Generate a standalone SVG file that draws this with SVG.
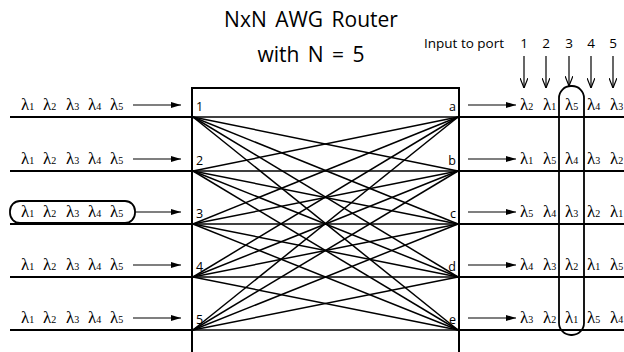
<svg xmlns="http://www.w3.org/2000/svg" width="624" height="352" viewBox="0 0 624 352">
<defs>
<marker id="ah" viewBox="0 0 10 6" refX="10" refY="3" markerWidth="10" markerHeight="6" markerUnits="userSpaceOnUse" orient="auto">
<path d="M0,0 L10,3 L0,6 Z" fill="#000"/>
</marker>
<marker id="dh" viewBox="0 0 8 10" refX="4" refY="10" markerWidth="8" markerHeight="10" markerUnits="userSpaceOnUse" orient="0">
<path d="M0,0 L4,10 L8,0" fill="none" stroke="#000" stroke-width="1.2"/>
</marker>
<style>
.title{font-family:"Open Sans","DejaVu Sans",sans-serif;font-size:21px;fill:#000;text-anchor:middle}
.sm{font-family:"Open Sans","DejaVu Sans",sans-serif;font-size:13.5px;fill:#000}
.port{font-family:"Open Sans","DejaVu Sans",sans-serif;font-size:12.5px;fill:#000}
.lam{font-family:"Liberation Serif","DejaVu Serif",serif;font-size:17px;fill:#000}
.sub{font-size:10px}
.row{stroke:#000;stroke-width:2;fill:none}
.box{stroke:#000;stroke-width:2;fill:none}
.mesh{stroke:#000;stroke-width:1.5}
.arr{stroke:#000;stroke-width:1.2;marker-end:url(#ah)}
.darr{stroke:#000;stroke-width:1.2;marker-end:url(#dh)}
.oval{stroke:#000;stroke-width:1.8;fill:none}
</style>
</defs>
<rect width="624" height="352" fill="#fff"/>

<g id="title">
<text class="title" x="311" y="27" word-spacing="3">NxN AWG Router</text>
<text class="title" x="311" y="62" word-spacing="3">with N = 5</text>
</g>

<g id="router">
<path class="box" d="M192,352 V88 H459 V352"/>
</g>

<g id="port-labels">
<text class="port" x="196" y="111">1</text>
<text class="port" x="196" y="165">2</text>
<text class="port" x="196" y="218">3</text>
<text class="port" x="196" y="271">4</text>
<text class="port" x="196" y="324">5</text>
<text class="port" x="456" y="111" text-anchor="end">a</text>
<text class="port" x="456" y="165" text-anchor="end">b</text>
<text class="port" x="456" y="218" text-anchor="end">c</text>
<text class="port" x="456" y="271" text-anchor="end">d</text>
<text class="port" x="456" y="324" text-anchor="end">e</text>
</g>

<g id="inputs">
<text class="lam" y="110"><tspan x="21">λ<tspan class="sub">1</tspan></tspan><tspan x="43">λ<tspan class="sub">2</tspan></tspan><tspan x="66">λ<tspan class="sub">3</tspan></tspan><tspan x="88">λ<tspan class="sub">4</tspan></tspan><tspan x="110">λ<tspan class="sub">5</tspan></tspan></text>
<text class="lam" y="164"><tspan x="21">λ<tspan class="sub">1</tspan></tspan><tspan x="43">λ<tspan class="sub">2</tspan></tspan><tspan x="66">λ<tspan class="sub">3</tspan></tspan><tspan x="88">λ<tspan class="sub">4</tspan></tspan><tspan x="110">λ<tspan class="sub">5</tspan></tspan></text>
<g id="input-3">
<rect class="oval" x="10" y="201" width="125" height="22" rx="10"/>
<text class="lam" y="217"><tspan x="21">λ<tspan class="sub">1</tspan></tspan><tspan x="43">λ<tspan class="sub">2</tspan></tspan><tspan x="66">λ<tspan class="sub">3</tspan></tspan><tspan x="88">λ<tspan class="sub">4</tspan></tspan><tspan x="110">λ<tspan class="sub">5</tspan></tspan></text>
</g>
<text class="lam" y="270"><tspan x="21">λ<tspan class="sub">1</tspan></tspan><tspan x="43">λ<tspan class="sub">2</tspan></tspan><tspan x="66">λ<tspan class="sub">3</tspan></tspan><tspan x="88">λ<tspan class="sub">4</tspan></tspan><tspan x="110">λ<tspan class="sub">5</tspan></tspan></text>
<text class="lam" y="323"><tspan x="21">λ<tspan class="sub">1</tspan></tspan><tspan x="43">λ<tspan class="sub">2</tspan></tspan><tspan x="66">λ<tspan class="sub">3</tspan></tspan><tspan x="88">λ<tspan class="sub">4</tspan></tspan><tspan x="110">λ<tspan class="sub">5</tspan></tspan></text>
</g>

<g id="outputs">
<text class="lam" y="110"><tspan x="520">λ<tspan class="sub">2</tspan></tspan><tspan x="543">λ<tspan class="sub">1</tspan></tspan><tspan x="565">λ<tspan class="sub">5</tspan></tspan><tspan x="587">λ<tspan class="sub">4</tspan></tspan><tspan x="610">λ<tspan class="sub">3</tspan></tspan></text>
<text class="lam" y="164"><tspan x="520">λ<tspan class="sub">1</tspan></tspan><tspan x="543">λ<tspan class="sub">5</tspan></tspan><tspan x="565">λ<tspan class="sub">4</tspan></tspan><tspan x="587">λ<tspan class="sub">3</tspan></tspan><tspan x="610">λ<tspan class="sub">2</tspan></tspan></text>
<text class="lam" y="217"><tspan x="520">λ<tspan class="sub">5</tspan></tspan><tspan x="543">λ<tspan class="sub">4</tspan></tspan><tspan x="565">λ<tspan class="sub">3</tspan></tspan><tspan x="587">λ<tspan class="sub">2</tspan></tspan><tspan x="610">λ<tspan class="sub">1</tspan></tspan></text>
<text class="lam" y="270"><tspan x="520">λ<tspan class="sub">4</tspan></tspan><tspan x="543">λ<tspan class="sub">3</tspan></tspan><tspan x="565">λ<tspan class="sub">2</tspan></tspan><tspan x="587">λ<tspan class="sub">1</tspan></tspan><tspan x="610">λ<tspan class="sub">5</tspan></tspan></text>
<text class="lam" y="323"><tspan x="520">λ<tspan class="sub">3</tspan></tspan><tspan x="543">λ<tspan class="sub">2</tspan></tspan><tspan x="565">λ<tspan class="sub">1</tspan></tspan><tspan x="587">λ<tspan class="sub">5</tspan></tspan><tspan x="610">λ<tspan class="sub">4</tspan></tspan></text>
<rect id="port3-column" class="oval" x="559" y="86" width="25" height="249" rx="12"/>
</g>

<g id="input-to-port">
<text class="sm" x="424" y="48">Input to port</text>
<text class="sm" x="524" y="48" text-anchor="middle">1</text>
<text class="sm" x="546" y="48" text-anchor="middle">2</text>
<text class="sm" x="569" y="48" text-anchor="middle">3</text>
<text class="sm" x="591" y="48" text-anchor="middle">4</text>
<text class="sm" x="613" y="48" text-anchor="middle">5</text>
</g>

<g id="connectors">
<g id="rows">
<line class="row" x1="10" y1="117" x2="192" y2="117"/>
<line class="row" x1="10" y1="171" x2="192" y2="171"/>
<line class="row" x1="10" y1="224" x2="192" y2="224"/>
<line class="row" x1="10" y1="277" x2="192" y2="277"/>
<line class="row" x1="10" y1="330" x2="192" y2="330"/>
<line class="row" x1="459" y1="117" x2="624" y2="117"/>
<line class="row" x1="459" y1="171" x2="624" y2="171"/>
<line class="row" x1="459" y1="224" x2="624" y2="224"/>
<line class="row" x1="459" y1="277" x2="624" y2="277"/>
<line class="row" x1="459" y1="330" x2="624" y2="330"/>
</g>
<g id="in-arrows">
<line class="arr" x1="133" y1="105" x2="181" y2="105"/>
<line class="arr" x1="133" y1="159" x2="181" y2="159"/>
<line class="arr" x1="135" y1="212" x2="181" y2="212"/>
<line class="arr" x1="133" y1="265" x2="181" y2="265"/>
<line class="arr" x1="133" y1="318" x2="181" y2="318"/>
</g>
<g id="out-arrows">
<line class="arr" x1="468" y1="105" x2="516" y2="105"/>
<line class="arr" x1="468" y1="159" x2="516" y2="159"/>
<line class="arr" x1="468" y1="212" x2="516" y2="212"/>
<line class="arr" x1="468" y1="265" x2="516" y2="265"/>
<line class="arr" x1="468" y1="318" x2="516" y2="318"/>
</g>
<g id="down-arrows">
<line class="darr" x1="524" y1="56" x2="524" y2="88"/>
<line class="darr" x1="546" y1="56" x2="546" y2="88"/>
<line class="darr" x1="569" y1="56" x2="569" y2="86"/>
<line class="darr" x1="591" y1="56" x2="591" y2="88"/>
<line class="darr" x1="613" y1="56" x2="613" y2="88"/>
</g>
<g id="mesh">
<line class="mesh" x1="193" y1="117" x2="458" y2="117"/>
<line class="mesh" x1="193" y1="117" x2="458" y2="171"/>
<line class="mesh" x1="193" y1="117" x2="458" y2="224"/>
<line class="mesh" x1="193" y1="117" x2="458" y2="277"/>
<line class="mesh" x1="193" y1="117" x2="458" y2="330"/>
<line class="mesh" x1="193" y1="171" x2="458" y2="117"/>
<line class="mesh" x1="193" y1="171" x2="458" y2="171"/>
<line class="mesh" x1="193" y1="171" x2="458" y2="224"/>
<line class="mesh" x1="193" y1="171" x2="458" y2="277"/>
<line class="mesh" x1="193" y1="171" x2="458" y2="330"/>
<line class="mesh" x1="193" y1="224" x2="458" y2="117"/>
<line class="mesh" x1="193" y1="224" x2="458" y2="171"/>
<line class="mesh" x1="193" y1="224" x2="458" y2="224"/>
<line class="mesh" x1="193" y1="224" x2="458" y2="277"/>
<line class="mesh" x1="193" y1="224" x2="458" y2="330"/>
<line class="mesh" x1="193" y1="277" x2="458" y2="117"/>
<line class="mesh" x1="193" y1="277" x2="458" y2="171"/>
<line class="mesh" x1="193" y1="277" x2="458" y2="224"/>
<line class="mesh" x1="193" y1="277" x2="458" y2="277"/>
<line class="mesh" x1="193" y1="277" x2="458" y2="330"/>
<line class="mesh" x1="193" y1="330" x2="458" y2="117"/>
<line class="mesh" x1="193" y1="330" x2="458" y2="171"/>
<line class="mesh" x1="193" y1="330" x2="458" y2="224"/>
<line class="mesh" x1="193" y1="330" x2="458" y2="277"/>
<line class="mesh" x1="193" y1="330" x2="458" y2="330"/>
</g>
</g>
</svg>
